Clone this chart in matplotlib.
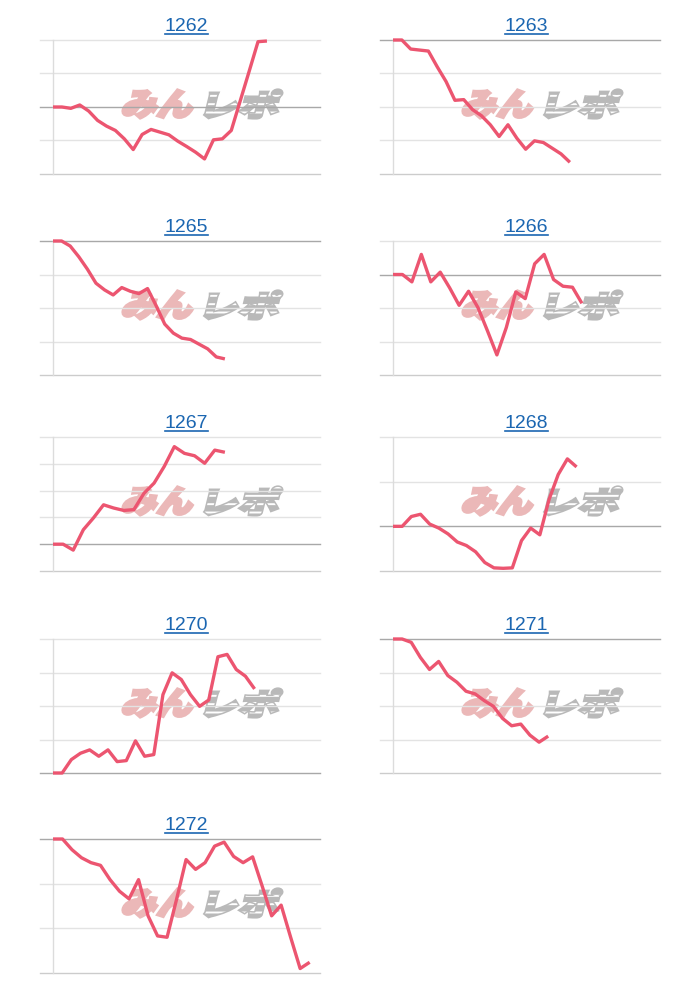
import numpy as np
import matplotlib
matplotlib.use("Agg")
import matplotlib.pyplot as plt
from matplotlib.textpath import TextPath
from matplotlib.patches import PathPatch
from matplotlib.font_manager import FontProperties
from matplotlib.transforms import Affine2D
from matplotlib.lines import Line2D

# machine numbers, games played, coin difference sampled evenly over the games
machines = ["1262", "1263", "1265", "1266", "1267", "1268", "1270", "1271", "1272"]
games = [6410, 5300, 5150, 5660, 5150, 5500, 6040, 4650, 7690]

slump_1262 = [0, 0, -40, 60, -120, -400, -570, -700, -950, -1270, -820, -670, -750,
              -830, -1020, -1180, -1350, -1550, -980, -950, -700, 180, 1060, 1950, 1970]
slump_1263 = [0, 0, -270, -300, -330, -800, -1240, -1800, -1780, -2080, -2260, -2530,
              -2880, -2530, -2930, -3260, -3010, -3060, -3230, -3400, -3650]
slump_1265 = [0, 0, -150, -470, -840, -1260, -1460, -1610, -1390, -1500, -1570, -1420,
              -1930, -2480, -2750, -2900, -2940, -3080, -3220, -3460, -3520]
slump_1266 = [0, 0, -220, 600, -220, 70, -400, -920, -500, -990, -1680, -2400, -1580,
              -520, -720, 320, 600, -150, -350, -380, -860]
slump_1267 = [0, 0, -220, 540, 980, 1470, 1350, 1260, 1290, 1900, 2280, 2900, 3640,
              3390, 3300, 3020, 3510, 3430]
slump_1268 = [0, 0, 220, 270, 50, -40, -170, -350, -430, -570, -810, -930, -940, -930,
              -320, -40, -190, 600, 1160, 1510, 1330]
slump_1270 = [0, 0, 400, 590, 690, 500, 690, 340, 370, 960, 500, 550, 2340, 2990, 2790,
              2340, 1990, 2180, 3470, 3540, 3090, 2890, 2510]
slump_1271 = [0, 0, -100, -550, -910, -670, -1090, -1290, -1560, -1640, -1840, -2010,
              -2370, -2590, -2540, -2870, -3080, -2900]
slump_1272 = [0, 0, -240, -420, -530, -590, -910, -1170, -1340, -910, -1720, -2170, -2200,
              -1350, -460, -680, -530, -160, -70, -390, -530, -400, -1050, -1720, -1480,
              -2200, -2900, -2760]

slumps = [slump_1262, slump_1263, slump_1265, slump_1266, slump_1267,
          slump_1268, slump_1270, slump_1271, slump_1272]

W, H = 700, 1000
G_MAX = 8000
col_x = [40, 380]
row_top = [40, 241, 437, 639, 839]
ax_w, ax_h = 280, 134
pad = 13

fig = plt.figure(figsize=(7, 10), dpi=100)
fig.patch.set_facecolor("white")
plt.rcParams["hatch.linewidth"] = 1.4

logo_fp = FontProperties(family="Noto Sans CJK JP", weight="black")
path_min = TextPath((0, 0), "みん", prop=logo_fp, size=1)
path_repo = TextPath((0, 0), "レポ", prop=logo_fp, size=1)


def fit(path, x0, y0, w, h, skew=14):
    e = path.get_extents()
    bw = w - h * np.tan(np.radians(skew))
    return (Affine2D().translate(-e.x0, -e.y0)
            .scale(bw / e.width, h / e.height)
            .skew_deg(skew, 0).translate(x0, y0))


titles = []
for k, (name, g, v) in enumerate(zip(machines, games, slumps)):
    r, c = divmod(k, 2)
    left, top = col_x[c], row_top[r]
    ax = fig.add_axes([left / W, 1 - (top + ax_h) / H, ax_w / W, ax_h / H])
    x = np.linspace(0, g, len(v))
    lo = np.floor(min(v) / 1000) * 1000
    hi = np.ceil(max(v) / 1000) * 1000
    ax.set_xlim(-G_MAX * pad / (ax_w - pad), G_MAX)
    ax.set_ylim(lo, hi)
    for yv in np.arange(lo, hi + 1, 1000):
        if yv == 0:
            col = "#a8a8a8"
        elif yv == lo:
            col = "#cccccc"
        else:
            col = "#e3e3e3"
        ax.axhline(yv, color=col, lw=1, zorder=1, clip_on=False)
    ax.axvline(0, color="#dcdcdc", lw=1, zorder=1, clip_on=False)
    ax.plot(x, v, color="#ec5570", lw=2.4, zorder=3, clip_on=False,
            solid_joinstyle="round", solid_capstyle="butt")
    ax.axis("off")

    # watermark logo
    bx = left + 0.286 * ax_w
    bw = 0.585 * ax_w
    by = H - top - ax_h + 0.41 * ax_h
    bh = 0.225 * ax_h
    t1 = fit(path_min, bx + 1, by + 1, bw * 0.476 - 2, bh - 2)
    t2 = fit(path_repo, bx + bw * 0.506 + 1, by + 1, bw * 0.494 - 2, bh - 2)
    ax.add_patch(PathPatch(path_min, transform=t1, facecolor="#ebb8b8",
                           edgecolor="#ebb8b8", lw=2.2, zorder=0.5))
    ax.add_patch(PathPatch(path_repo, transform=t2, facecolor="#b9b9b9",
                           edgecolor="#b9b9b9", lw=2.2, zorder=0.5))
    ax.add_patch(PathPatch(path_repo, transform=t2, facecolor="none",
                           edgecolor="white", lw=0, hatch="--", zorder=0.6))

    cx = left + pad + (ax_w - pad) / 2
    base = H - (top - 9)
    t = fig.text(cx / W, base / H, name, ha="center", va="baseline", fontsize=14,
                 color="#1b66b1", family="Liberation Sans")
    titles.append((t, base))

fig.canvas.draw()
renderer = fig.canvas.get_renderer()
for t, base in titles:
    bb = t.get_window_extent(renderer=renderer)
    y = (base - 2.5) / H
    fig.add_artist(Line2D([bb.x0 / W, bb.x1 / W], [y, y], color="#1b66b1", lw=1.2))

fig.savefig("out.png", dpi=100)
